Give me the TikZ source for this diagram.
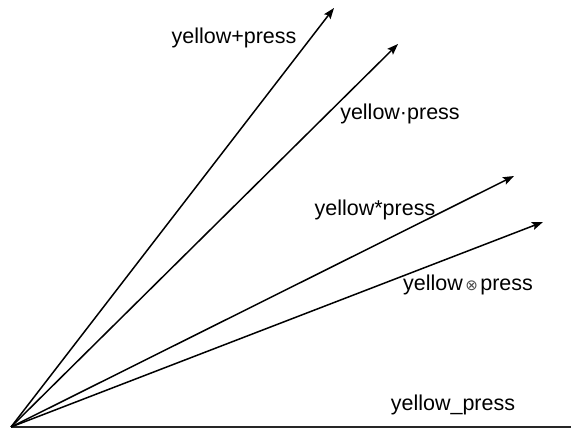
\documentclass[tikz,border=0pt]{standalone}
\usepackage{fontspec}
\setmainfont{Liberation Sans}
\newfontfamily\symfont{DejaVu Sans}
\usetikzlibrary{arrows.meta}
\begin{document}
\begin{tikzpicture}[x=1pt,y=-1pt,
  vec/.style={line width=1.5pt,-{Stealth[length=11pt,width=8pt,inset=2pt]}},
  axis/.style={line width=1.8pt,draw=black!85},
  lbl/.style={font=\fontsize{21.5}{25}\selectfont,inner sep=0pt,anchor=center}]
  \useasboundingbox (0,0) rectangle (571,430);
  % common origin and vector end points
  \coordinate (O) at (11,427);
  \coordinate (e) at (571,427);
  \coordinate (t1) at (334,8);
  \coordinate (t2) at (398,44);
  \coordinate (t3) at (514,176);
  \coordinate (t4) at (543,222);
  % vectors
  \draw[axis] (O) -- (e);
  \draw[vec] (O) -- (t1);
  \draw[vec] (O) -- (t2);
  \draw[vec] (O) -- (t3);
  \draw[vec] (O) -- (t4);
  % labels
  \node[lbl] (l1) at (234,38) {yellow+press};
  \node[lbl] (l2) at (400,114) {yellow·press};
  \node[lbl] (l3) at (375,210) {yellow*press};
  \node[lbl] (l4) at (468,285) {yellow{\symfont\fontsize{15}{17}\selectfont\color{black!70}\,⊗\,}press};
  \node[lbl] (l5) at (453,405) {yellow\_press};
\end{tikzpicture}
\end{document}
